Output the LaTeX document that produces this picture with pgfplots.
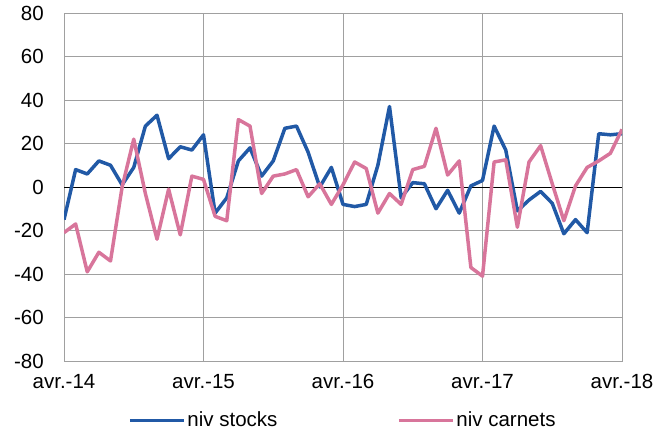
\documentclass[border=0pt]{standalone}
\usepackage{fontspec}
\setmainfont{Liberation Sans}
\usepackage{pgfplots}
\pgfplotsset{compat=1.18}
\definecolor{stocks}{RGB}{33,89,166}
\definecolor{carnets}{RGB}{216,117,155}
\definecolor{gridgray}{RGB}{160,160,160}

\begin{document}
\begin{tikzpicture}
\useasboundingbox (-64pt,-73pt) rectangle (605pt,361pt);
\begin{axis}[
  scale only axis,
  width=558pt, height=348pt,
  xmin=0, xmax=48, ymin=-80, ymax=80,
  xtick={0,12,24,36,48},
  xticklabels={avr.-14,avr.-15,avr.-16,avr.-17,avr.-18},
  ytick={-80,-60,...,80},
  xmajorgrids, ymajorgrids,
  grid style={gridgray, line width=0.8pt},
  axis line style={gridgray, line width=0.8pt},
  major tick length=0pt,
  font=\fontsize{20.5}{23}\selectfont,
  /pgf/number format/assume math mode=true,
  yticklabel style={inner sep=0pt, xshift=-20pt},
  xticklabel style={inner sep=0pt, yshift=-13pt},
  legend style={at={(0.5,-0.17)}, anchor=center, draw=none, fill=none,
    legend columns=2, font=\fontsize{20.5}{23}\selectfont,
    nodes={inner sep=2pt},
    /tikz/every even column/.append style={column sep=118pt}},
  legend image code/.code={\draw[#1, line width=3pt] (0pt,0pt) -- (54pt,0pt);},
  legend cell align=left,
]
\draw[black, line width=0.9pt] (axis cs:0,0) -- (axis cs:48,0);
\addplot[stocks, line width=3.5pt, line join=round] coordinates {
(0,-15) (1,8) (2,6) (3,12) (4,10) (5,1) (6,9) (7,28) (8,33) (9,13)
(10,18.5) (11,17) (12,24) (13,-12) (14,-5) (15,12) (16,18) (17,5) (18,12) (19,27)
(20,28) (21,16) (22,0) (23,9) (24,-8) (25,-9) (26,-8) (27,10) (28,37) (29,-5)
(30,2) (31,1.5) (32,-10) (33,-1.5) (34,-12) (35,0.5) (36,3) (37,28) (38,17) (39,-11)
(40,-6) (41,-2) (42,-7.5) (43,-21.5) (44,-15) (45,-21) (46,24.5) (47,24) (48,24.5)
};
\addlegendentry{niv stocks}
\addplot[carnets, line width=3.5pt, line join=round] coordinates {
(0,-21) (1,-17) (2,-39) (3,-30) (4,-34) (5,0) (6,22) (7,-3) (8,-24) (9,-1)
(10,-22) (11,5) (12,3.5) (13,-13.5) (14,-15.5) (15,31) (16,28) (17,-3) (18,5) (19,6)
(20,8) (21,-4.5) (22,1.5) (23,-8) (24,1) (25,11.5) (26,8.5) (27,-12) (28,-3) (29,-8)
(30,8) (31,9.5) (32,27) (33,5.5) (34,12) (35,-37) (36,-41) (37,11.5) (38,12.5) (39,-18.5)
(40,11.5) (41,19) (42,1.5) (43,-15.5) (44,0.5) (45,9) (46,12) (47,15.5) (48,26.5)
};
\addlegendentry{niv carnets}
\end{axis}
\end{tikzpicture}
\end{document}
